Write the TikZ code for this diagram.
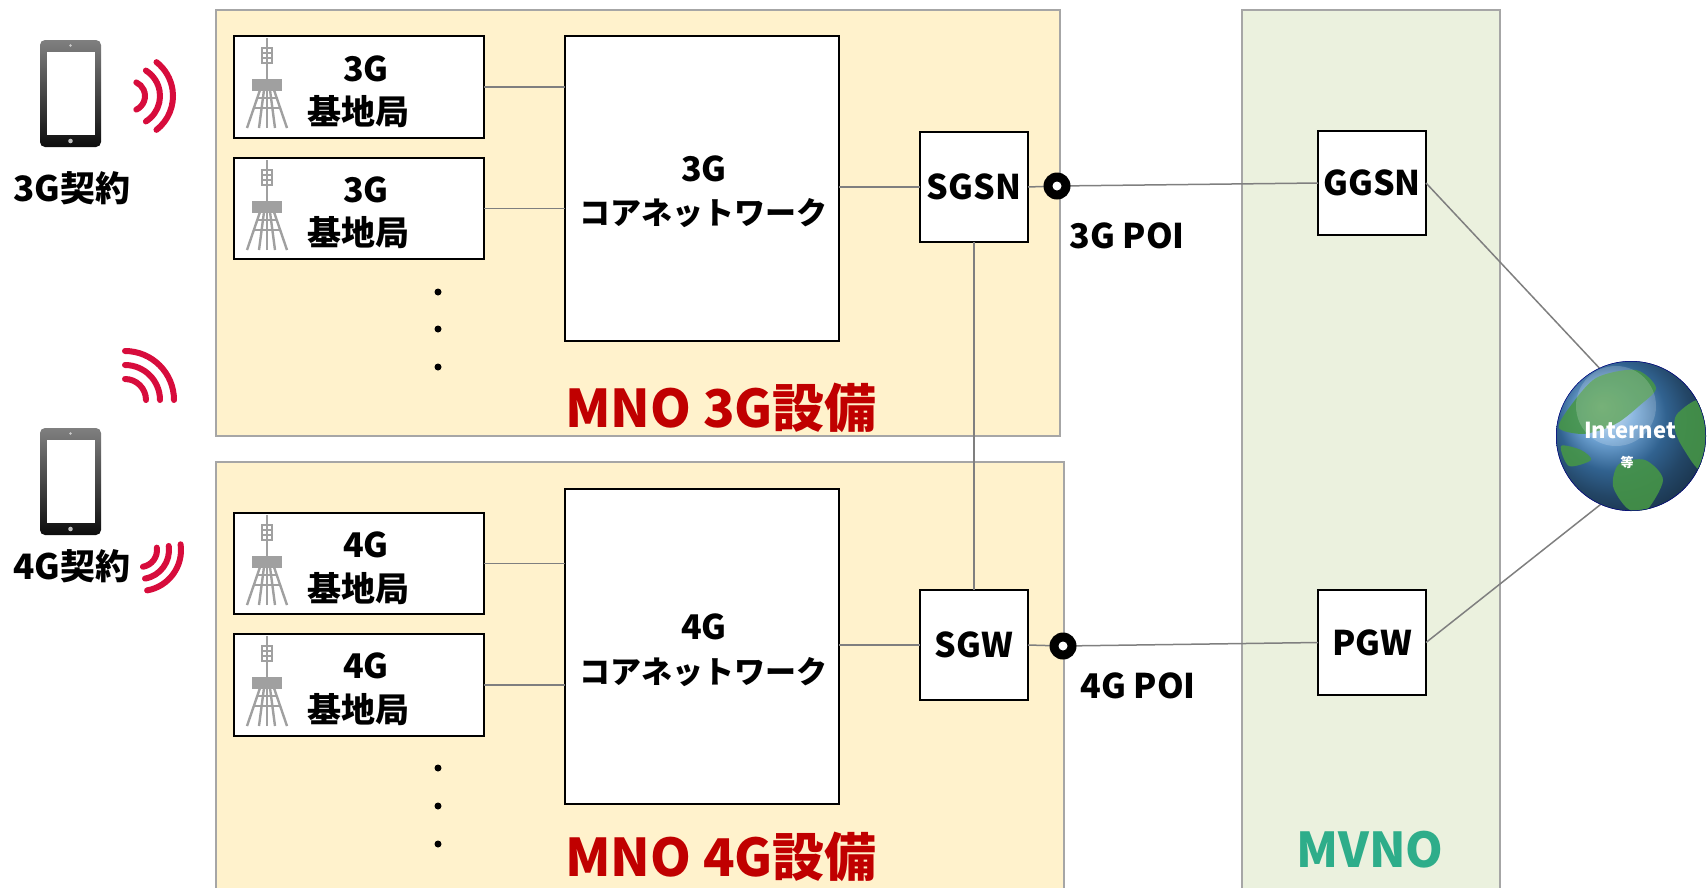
\documentclass[tikz,border=0pt]{standalone}
\usepackage{fontspec}
\setmainfont{Noto Sans CJK JP}
\definecolor{mnofill}{HTML}{FFF2CC}
\definecolor{mvnofill}{HTML}{EBF1DE}
\definecolor{areaborder}{HTML}{A6A6A6}
\definecolor{linkgray}{HTML}{7F7F7F}
\definecolor{mnored}{HTML}{C00000}
\definecolor{mvnogreen}{RGB}{46,173,138}
\definecolor{wavered}{RGB}{215,12,60}
\definecolor{towergray}{HTML}{A0A0A0}
\definecolor{landgreen}{RGB}{70,150,70}
\newcommand{\fs}[1]{\bfseries\fontsize{#1}{#1}\selectfont}
\begin{document}
\begin{tikzpicture}[x=1pt,y=1pt,
  every node/.style={inner sep=0pt,outer sep=0pt},
  area/.style={draw=areaborder,line width=1.5pt,anchor=north west},
  unit/.style={draw=black,line width=2pt,fill=white,anchor=north west},
  link/.style={draw=linkgray,line width=1.5pt},
  lbl/.style={font=\fs{34}},
  kana/.style={font=\fs{31}},
  wave/.style={draw=wavered,line width=6pt,line cap=round},
  poi/.style={circle,fill=black,minimum size=27pt},
  poihole/.style={circle,fill=white,minimum size=9pt},
  dot/.style={circle,fill=black,minimum size=7pt},
  bstower/.pic={
    \begin{scope}[draw=towergray,line width=2.4pt]
      \draw (0,0) -- (0,90);
      \draw (-5,65) rectangle (5,80);
      \draw (-5,70) -- (5,70) (-5,75) -- (5,75);
      \fill[towergray] (-15,37) rectangle (15,49);
      \draw (-7,38) -- (-20,0) (7,38) -- (20,0);
      \draw (-3,38) -- (-8,0) (3,38) -- (8,0);
      \draw (-9.7,30) -- (9.7,30) (-13.2,20) -- (13.2,20);
    \end{scope}
  },
  handset/.pic={
    \shade[top color=black!50,bottom color=black!95,rounded corners=5pt]
      (0,0) rectangle (61,-107);
    \fill[white] (7,-12) rectangle (55,-95);
    \fill[black!20] (30.5,-5.5) circle (1.3);
    \fill[black!25] (30.5,-101) circle (2.3);
  }]
\path[use as bounding box] (0,0) rectangle (1708,-887);
\clip (0,0) rectangle (1708,-887);

% operator areas
\node[area,fill=mnofill,minimum width=844pt,minimum height=426pt] (mno3g) at (216,-10) {};
\node[area,fill=mnofill,minimum width=848pt,minimum height=440pt] (mno4g) at (216,-462) {};
\node[area,fill=mvnofill,minimum width=258pt,minimum height=890pt] (mvno) at (1242,-10) {};

% base stations
\node[unit,minimum width=250pt,minimum height=102pt] (bs31) at (234,-36) {};
\node[unit,minimum width=250pt,minimum height=101pt] (bs32) at (234,-158) {};
\node[unit,minimum width=250pt,minimum height=101pt] (bs41) at (234,-513) {};
\node[unit,minimum width=250pt,minimum height=102pt] (bs42) at (234,-634) {};
\pic at (267,-128) {bstower};
\pic at (267,-250) {bstower};
\pic at (267,-605) {bstower};
\pic at (267,-726) {bstower};
\node[lbl] (t31a) at (366,-69) {3G};
\node[lbl] (t31b) at (358,-112) {基地局};
\node[lbl] (t32a) at (366,-190) {3G};
\node[lbl] (t32b) at (358,-233) {基地局};
\node[lbl] (t41a) at (366,-545) {4G};
\node[lbl] (t41b) at (358,-589) {基地局};
\node[lbl] (t42a) at (366,-666) {4G};
\node[lbl] (t42b) at (358,-710) {基地局};

% continuation dots
\foreach \yy [count=\i] in {292,329,367} \node[dot] (d3\i) at (438,-\yy) {};
\foreach \yy [count=\i] in {768,806,844} \node[dot] (d4\i) at (438,-\yy) {};

% core networks
\node[unit,minimum width=274pt,minimum height=305pt] (core3) at (565,-36) {};
\node[unit,minimum width=274pt,minimum height=315pt] (core4) at (565,-489) {};
\node[lbl] (c3a) at (704,-169) {3G};
\node[kana] (c3b) at (703,-213) {コアネットワーク};
\node[lbl] (c4a) at (704,-627) {4G};
\node[kana] (c4b) at (703,-672) {コアネットワーク};

% gateways
\node[unit,minimum width=108pt,minimum height=110pt] (sgsn) at (920,-132) {};
\node[unit,minimum width=108pt,minimum height=110pt] (sgw) at (920,-590) {};
\node[unit,minimum width=108pt,minimum height=104pt] (ggsn) at (1318,-131) {};
\node[unit,minimum width=108pt,minimum height=105pt] (pgw) at (1318,-590) {};
\node[lbl] (sgsnt) at (sgsn.center) {SGSN};
\node[lbl] (sgwt) at (sgw.center) {SGW};
\node[lbl] (ggsnt) at (ggsn.center) {GGSN};
\node[lbl] (pgwt) at (pgw.center) {PGW};

% internet globe
\node[circle,minimum size=150pt] (globe) at (1631,-436) {};

% connections
\draw[link] (bs31.east) -- (bs31.east -| core3.west);
\draw[link] (bs32.east) -- (bs32.east -| core3.west);
\draw[link] (bs41.east) -- (bs41.east -| core4.west);
\draw[link] (bs42.east) -- (bs42.east -| core4.west);
\draw[link] (sgsn.west -| core3.east) -- (sgsn.west);
\draw[link] (sgw.west -| core4.east) -- (sgw.west);
\draw[link] (sgsn.south) -- (sgw.north);
\coordinate (poi3c) at (1057,-186);
\coordinate (poi4c) at (1063,-646);
\draw[link] (sgsn.east) -- (poi3c) -- (ggsn.west);
\draw[link] (sgw.east) -- (poi4c) -- (pgw.west);
\draw[link] (ggsn.east) -- (globe.115);
\draw[link] (pgw.east) -- (globe.246);
\node[poi] (poi3) at (poi3c) {};
\node[poihole] (poi3h) at (poi3c) {};
\node[poi] (poi4) at (poi4c) {};
\node[poihole] (poi4h) at (poi4c) {};
\node[lbl] (poi3t) at (1127,-236) {3G POI};
\node[lbl] (poi4t) at (1138,-686) {4G POI};

% globe drawing
\begin{scope}
  \clip (globe.center) circle (75);
  \shade[ball color={rgb,255:red,70;green,140;blue,205}] (globe.center) circle (75);
  \begin{scope}[shift={(globe.center)},fill=landgreen,opacity=0.88]
    \fill plot[smooth cycle] coordinates {(-62,28) (-35,58) (5,66) (25,48) (8,30) (-12,14) (-30,6) (-50,2) (-72,8)};
    \fill plot[smooth cycle] coordinates {(-12,-28) (14,-24) (32,-44) (14,-76) (-4,-72) (-18,-50)};
    \fill plot[smooth cycle] coordinates {(46,22) (70,36) (82,0) (70,-34) (52,-12) (44,6)};
    \fill plot[smooth cycle] coordinates {(-70,-10) (-50,-14) (-40,-24) (-62,-30)};
  \end{scope}
  \fill[white,opacity=0.18] (globe.center) ++(-15,30) circle (40);
  \draw[black!50!blue,line width=1pt] (globe.center) circle (75);
\end{scope}
\node[text=white,font=\fs{22}] (inet) at (1630,-430) {Internet};
\node[text=white,font=\fs{13}] (inetb) at (1627,-462) {等};

% subscriber handsets
\pic at (40,-40) {handset};
\pic at (40,-428) {handset};
\node[font=\fs{35}] (sub3) at (72,-188) {3G契約};
\node[font=\fs{35}] (sub4) at (72,-566) {4G契約};

% radio waves
\foreach \r/\a in {15/65,30/58,43/52}
  \draw[wave] (130,-96) ++(-\a:\r) arc[start angle=-\a,end angle=\a,radius=\r];
\foreach \r in {21,35,49}
  \draw[wave] (125,-400) ++(90:\r) arc[start angle=90,end angle=0,radius=\r];
\foreach \r in {17,29,41}
  \draw[wave] (140,-550) ++(8:\r) arc[start angle=8,end angle=-80,radius=\r];

% area captions
\node[text=mnored,font=\fs{52}] (cap3) at (721,-408) {MNO 3G設備};
\node[text=mnored,font=\fs{52}] (cap4) at (721,-857) {MNO 4G設備};
\node[text=mvnogreen,font=\fs{48}] (capv) at (1370,-850) {MVNO};
\end{tikzpicture}
\end{document}
